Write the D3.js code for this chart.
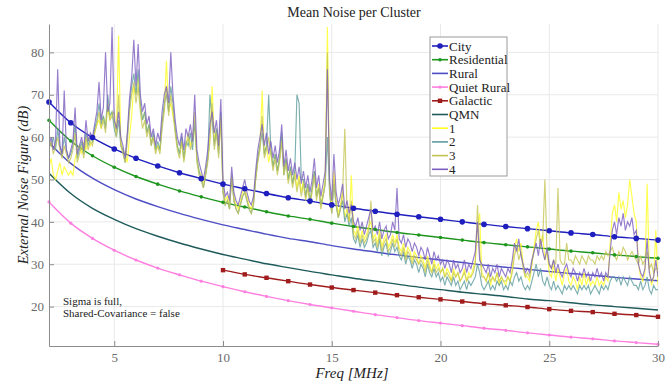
<!DOCTYPE html>
<html>
<head>
<meta charset="utf-8">
<script src="https://cdn.jsdelivr.net/npm/d3@7"></script>
<style>
  body { margin: 0; background: #fff; }
  svg text { font-family: "Liberation Serif", "Times New Roman", serif !important; }
</style>
</head>
<body>
<div id="chart"></div>
<script>
// ITU curves, one value per MHz
let freqInt = [2,3,4,5,6,7,8,9,10,11,12,13,14,15,16,17,18,19,20,21,22,23,24,25,26,27,28,29,30];
let freqGal = [10,11,12,13,14,15,16,17,18,19,20,21,22,23,24,25,26,27,28,29,30];

let city = [68.3,63.4,59.9,57.2,55.0,53.2,51.6,50.2,48.9,47.8,46.7,45.7,44.9,44.0,43.2,42.5,41.8,41.2,40.6,40.0,39.4,38.9,38.4,37.9,37.4,37.0,36.5,36.1,35.7];
let residential = [64.0,59.1,55.6,52.9,50.7,48.9,47.3,45.9,44.6,43.5,42.4,41.4,40.6,39.7,38.9,38.2,37.5,36.9,36.3,35.7,35.1,34.6,34.1,33.6,33.1,32.7,32.2,31.8,31.4];
let rural = [58.7,53.8,50.3,47.6,45.4,43.6,42.0,40.6,39.3,38.2,37.1,36.1,35.3,34.4,33.6,32.9,32.2,31.6,31.0,30.4,29.8,29.3,28.8,28.3,27.8,27.4,26.9,26.5,26.1];
let quietRural = [44.7,39.7,36.1,33.3,31.0,29.1,27.5,26.0,24.7,23.5,22.4,21.4,20.5,19.7,18.9,18.1,17.4,16.7,16.1,15.5,14.9,14.4,13.8,13.3,12.8,12.4,11.9,11.5,11.1];
let galactic = [28.6,27.6,26.8,26.0,25.2,24.5,23.9,23.3,22.7,22.2,21.7,21.2,20.7,20.3,19.9,19.4,19.0,18.7,18.3,18.0,17.6];
let qmn = [51.5,46.7,43.2,40.6,38.4,36.6,35.0,33.6,32.3,31.2,30.1,29.2,28.3,27.5,26.7,26.0,25.3,24.6,24.0,23.4,22.9,22.4,21.8,21.4,20.9,20.4,20.0,19.6,19.2];

// measured cluster means, 0.1 MHz steps from 2.0 to 30.0
let freqStep = 0.1;
let cluster1 = [
  53,55,51,50,52,54,51,53,52,51, 52,51,55,57,58,56,59,57,60,58,
  59,61,63,64,62,65,63,67,64,66, 63,61,84,59,57,56,54,60,65,72,
  70,74,67,64,66,61,63,59,60,57, 58,57,64,67,78,66,68,65,62,58,
  56,59,55,58,61,58,60,62,55,52, 51,49,52,55,60,72,59,62,57,64,
  48,45,46,44,50,46,44,43,45,47, 48,46,44,43,45,50,55,58,71,56,
  58,54,57,53,56,52,55,60,52,55, 50,53,49,52,48,51,47,50,46,49,
  45,48,52,46,49,44,47,50,86,48, 43,52,45,42,44,47,41,43,40,51,
  38,37,39,36,38,36,37,39,40,36, 37,35,38,34,36,37,34,35,37,35,
  37,34,33,35,32,34,33,31,33,32, 30,32,31,29,32,30,28,31,29,30,
  28,29,27,29,28,26,29,27,28,26, 27,29,26,28,27,29,31,38,42,28,
  27,26,28,25,27,26,28,25,27,26, 25,27,26,29,34,36,33,35,30,27,
  27,26,30,34,38,40,35,37,31,33, 28,27,30,26,29,27,25,28,29,26,
  25,27,26,24,27,25,28,25,27,25, 26,25,27,25,26,25,27,26,35,42,
  44,40,47,43,45,41,44,50,46,42, 40,30,27,26,28,49,29,25,27,38,
  25];
let cluster2 = [
  59,58,60,57,62,58,56,60,57,55, 56,58,63,55,57,59,56,61,58,60,
  59,62,64,68,63,65,62,70,65,66, 62,60,64,58,57,54,60,67,72,75,
  70,76,68,64,66,61,63,58,61,57, 59,57,63,68,70,66,72,68,62,58,
  56,60,55,59,58,61,57,64,55,52, 50,48,51,55,70,64,58,62,56,66,
  47,44,45,43,51,45,43,42,44,46, 47,45,43,42,44,50,55,58,61,56,
  58,70,57,53,56,52,55,61,51,55, 50,53,49,52,70,68,50,50,46,49,
  45,48,52,46,48,44,46,49,60,47, 42,49,44,41,43,45,40,42,39,41,
  36,35,37,34,36,34,35,37,38,34, 35,33,36,32,34,35,32,33,35,33,
  34,32,31,33,30,32,31,29,31,30, 28,30,29,27,30,28,27,29,27,28,
  26,27,25,27,26,25,27,25,26,24, 25,26,24,26,25,26,27,30,28,25,
  24,25,26,24,25,24,26,25,26,24, 25,24,26,25,27,28,26,27,25,24,
  25,24,26,28,30,27,29,26,25,27, 25,24,26,24,25,24,23,25,24,25,
  24,25,24,23,25,24,25,24,25,23, 24,25,24,23,25,24,25,24,26,27,
  27,26,27,25,27,26,25,27,26,25, 25,24,26,24,25,27,24,23,25,24,
  24];
let cluster3 = [
  57,59,56,58,60,57,55,58,56,54, 55,57,61,54,56,58,55,60,57,59,
  58,61,63,66,62,64,61,68,64,65, 66,60,70,58,56,54,59,66,70,73,
  68,72,66,62,64,60,62,58,60,56, 58,56,62,66,72,65,70,66,61,57,
  55,59,54,58,60,57,59,66,54,51, 50,48,51,54,59,68,57,61,55,65,
  47,44,45,43,51,45,43,42,44,46, 47,45,43,42,44,50,54,57,65,55,
  57,60,56,52,55,51,54,59,51,54, 49,52,48,51,47,50,46,49,45,48,
  44,47,51,45,48,43,46,49,80,47, 42,50,44,41,43,47,62,43,40,45,
  37,36,38,35,37,35,36,38,45,35, 36,34,37,33,35,36,33,34,36,34,
  36,33,32,34,31,33,32,30,32,31, 30,31,30,28,31,29,28,30,28,29,
  28,29,27,28,27,26,28,27,28,26, 27,28,26,27,27,28,30,44,33,27,
  27,26,28,26,27,26,28,26,27,26, 26,27,26,28,32,34,31,33,29,27,
  28,27,30,33,36,38,34,36,50,33, 30,29,31,30,48,31,30,30,35,31,
  31,30,32,31,30,32,31,30,32,31, 31,30,32,31,32,31,33,32,33,34,
  32,31,33,32,34,33,31,32,33,32, 31,30,32,30,31,33,29,30,28,29,
  29];
let cluster4 = [
  58,60,57,59,76,58,56,71,57,55, 57,59,67,56,58,60,57,64,59,61,
  60,63,66,73,64,67,80,66,68,86, 64,62,66,60,58,55,61,69,74,83,
  72,82,70,66,68,63,65,60,62,58, 61,59,66,70,72,68,80,70,64,60,
  58,61,57,62,60,63,59,70,57,54, 52,50,53,57,63,66,61,64,58,69,
  50,46,47,45,53,47,45,44,46,48, 50,47,45,44,46,52,57,60,63,58,
  61,56,59,55,58,54,57,63,53,57, 52,55,51,54,50,53,49,52,48,51,
  47,50,55,48,51,46,49,52,76,50, 45,56,47,44,46,49,43,45,42,44,
  40,39,41,38,40,37,39,41,43,38, 39,37,40,36,38,39,36,37,40,38,
  48,36,35,37,34,36,35,33,35,34, 32,34,33,31,34,32,30,33,31,32,
  30,31,29,31,30,28,31,29,30,28, 29,31,28,30,29,31,33,40,31,30,
  29,28,30,27,29,28,30,27,29,28, 27,29,28,31,35,33,36,32,30,28,
  29,28,31,33,35,32,36,33,31,34, 30,29,31,28,30,28,27,29,30,28,
  27,29,28,26,28,27,29,27,28,26, 28,27,29,27,28,26,28,27,33,38,
  40,37,41,39,42,38,40,39,41,37, 38,30,28,27,29,36,28,26,27,31,
  27];

let xTicks = [5, 10, 15, 20, 25, 30];
let yTicks = [20, 30, 40, 50, 60, 70, 80];

let width = 672;
let height = 385;

let svg = d3.select('#chart').append('svg')
  .attr('width', width)
  .attr('height', height)
  .attr('font-family', '"Liberation Serif", serif');

let x = d3.scaleLinear().domain([2, 30]).range([49, 658]);
let y = d3.scaleLinear().domain([10.7, 86.7]).range([346, 24]);

// grid
let grid = svg.append('g').attr('class', 'grid');
grid.selectAll('.vg').data(xTicks).enter().append('line')
  .attr('x1', d => x(d)).attr('x2', d => x(d))
  .attr('y1', y(10.7)).attr('y2', y(86.7))
  .attr('stroke', '#e9e9e9').attr('stroke-width', 1);
grid.selectAll('.hg').data(yTicks).enter().append('line')
  .attr('x1', x(2)).attr('x2', x(30))
  .attr('y1', d => y(d)).attr('y2', d => y(d))
  .attr('stroke', '#e9e9e9').attr('stroke-width', 1);

let plot = svg.append('g');
plot.append('clipPath').attr('id', 'clip').append('rect')
  .attr('x', x(2)).attr('y', y(86.7))
  .attr('width', x(30) - x(2)).attr('height', y(10.7) - y(86.7));

let curves = [
  {name: 'City', f: freqInt, v: city, color: '#1f1fbf', marker: 'circle', r: 2.8},
  {name: 'Residential', f: freqInt, v: residential, color: '#1e961e', marker: 'dot', r: 1.8},
  {name: 'Rural', f: freqInt, v: rural, color: '#4d4dc4', marker: null},
  {name: 'Quiet Rural', f: freqInt, v: quietRural, color: '#ff7fe0', marker: 'dot', r: 1.6},
  {name: 'Galactic', f: freqGal, v: galactic, color: '#a01c1c', marker: 'square', r: 2.2},
  {name: 'QMN', f: freqInt, v: qmn, color: '#1e5a5a', marker: null}
];

let traces = [
  {name: '1', v: cluster1, color: '#ffff22'},
  {name: '2', v: cluster2, color: '#5f9c9e'},
  {name: '3', v: cluster3, color: '#c4c453'},
  {name: '4', v: cluster4, color: '#7c5ec0'}
];

let g = plot.append('g').attr('clip-path', 'url(#clip)');

curves.forEach(c => {
  let line = d3.line()
    .x((d, i) => x(c.f[i]))
    .y(d => y(d))
    .curve(d3.curveMonotoneX);
  g.append('path')
    .attr('d', line(c.v))
    .attr('fill', 'none')
    .attr('stroke', c.color)
    .attr('stroke-width', 1.4);
});

traces.forEach(t => {
  let line = d3.line()
    .x((d, i) => x(2 + i * freqStep))
    .y(d => y(d));
  g.append('path')
    .attr('d', line(t.v))
    .attr('fill', 'none')
    .attr('stroke', t.color)
    .attr('stroke-width', 1.15)
    .attr('stroke-opacity', 0.8);
});

function drawMarker(sel, type, cx, cy, r, color) {
  if (type === 'square') {
    sel.append('rect')
      .attr('x', cx - r).attr('y', cy - r)
      .attr('width', 2 * r).attr('height', 2 * r)
      .attr('fill', color);
  } else if (type) {
    sel.append('circle')
      .attr('cx', cx).attr('cy', cy).attr('r', r)
      .attr('fill', color);
  }
}

curves.forEach(c => {
  if (!c.marker) return;
  c.v.forEach((d, i) => drawMarker(plot, c.marker, x(c.f[i]), y(d), c.r, c.color));
});

// axes
let yAxis = d3.axisLeft(y).tickValues(yTicks).tickSize(-5).tickSizeOuter(0).tickPadding(5);
let xAxis = d3.axisBottom(x).tickValues(xTicks).tickSize(-5).tickSizeOuter(0).tickPadding(7);

let ya = svg.append('g').attr('transform', 'translate(' + x(2) + ',0)').call(yAxis);
let xa = svg.append('g').attr('transform', 'translate(0,' + y(10.7) + ')').call(xAxis);
[ya, xa].forEach(a => {
  a.attr('font-family', '"Liberation Serif", serif');
  a.select('.domain').attr('stroke', '#8c8c8c');
  a.selectAll('.tick line').attr('stroke', '#8c8c8c');
  a.selectAll('.tick text')
    .attr('fill', '#6a6a6a')
    .style('font-size', '13px');
});

svg.append('text')
  .attr('x', 354).attr('y', 17)
  .attr('text-anchor', 'middle')
  .style('font-size', '14px')
  .attr('fill', '#222')
  .text('Mean Noise per Cluster');

svg.append('text')
  .attr('x', 352).attr('y', 378)
  .attr('text-anchor', 'middle')
  .style('font-size', '15px')
  .style('font-style', 'italic')
  .attr('fill', '#222')
  .text('Freq [MHz]');

svg.append('text')
  .attr('transform', 'translate(28,185) rotate(-90)')
  .attr('text-anchor', 'middle')
  .style('font-size', '14.5px')
  .style('font-style', 'italic')
  .attr('fill', '#222')
  .text('External Noise Figure (dB)');

svg.append('text')
  .attr('x', 63).attr('y', 305)
  .style('font-size', '11px')
  .attr('fill', '#222')
  .text('Sigma is full,');
svg.append('text')
  .attr('x', 63).attr('y', 317)
  .style('font-size', '11px')
  .attr('fill', '#222')
  .text('Shared-Covariance = false');

// legend
let legendItems = curves.map(c => ({name: c.name, color: c.color, marker: c.marker, r: c.r}))
  .concat(traces.map(t => ({name: t.name, color: t.color, marker: null})));

let legend = svg.append('g');
legend.append('rect')
  .attr('x', 430).attr('y', 37)
  .attr('width', 77).attr('height', 139)
  .attr('fill', '#fff')
  .attr('stroke', '#9a9a9a');

legendItems.forEach((d, i) => {
  let ly = 46 + i * 13.7;
  legend.append('line')
    .attr('x1', 432).attr('x2', 448)
    .attr('y1', ly).attr('y2', ly)
    .attr('stroke', d.color)
    .attr('stroke-width', 1.6);
  drawMarker(legend, d.marker, 440, ly, d.r, d.color);
  legend.append('text')
    .attr('x', 449).attr('y', ly + 4.5)
    .style('font-size', '13px')
    .attr('fill', '#222')
    .text(d.name);
});
</script>
</body>
</html>
